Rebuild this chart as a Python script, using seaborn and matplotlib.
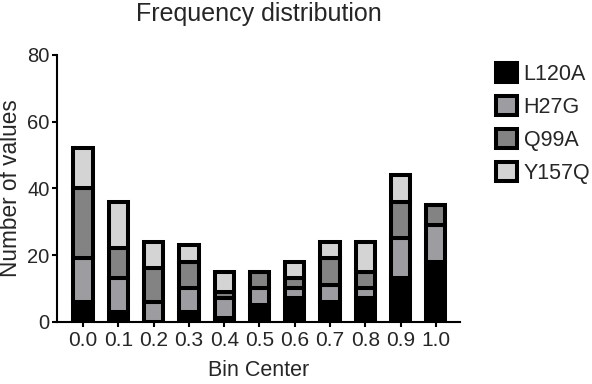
import numpy as np
import pandas as pd
import seaborn as sns
import matplotlib.pyplot as plt
from matplotlib.patches import Patch

# frequency counts per bin
bins = ["0.0", "0.1", "0.2", "0.3", "0.4", "0.5", "0.6", "0.7", "0.8", "0.9", "1.0"]
L120A = [6, 3, 0, 3, 1, 5, 7, 6, 7, 13, 18]
H27G = [13, 10, 6, 7, 6, 5, 3, 5, 3, 12, 11]
Q99A = [21, 9, 10, 8, 2, 5, 3, 8, 5, 11, 6]
Y157Q = [12, 14, 8, 5, 6, 0, 5, 5, 9, 8, 0]

series = ["L120A", "H27G", "Q99A", "Y157Q"]
colors = {"L120A": "#000000", "H27G": "#9d9da1", "Q99A": "#838383", "Y157Q": "#d4d4d4"}

df = pd.DataFrame({"bin": bins, "L120A": L120A, "H27G": H27G, "Q99A": Q99A, "Y157Q": Y157Q})

sns.set_theme(style="ticks")
plt.rcParams['font.family'] = ['Liberation Sans', 'DejaVu Sans']

fig = plt.figure(figsize=(5.92, 3.84), dpi=100)
ax = fig.add_axes([0.0958, 0.162, 0.682, 0.695])

bottom = np.zeros(len(bins))
for s in series:
    sns.barplot(data=df, x="bin", y=s, color=colors[s], saturation=1, width=0.55,
                bottom=bottom, edgecolor="black", linewidth=2.9, ax=ax)
    bottom = bottom + df[s].values

ax.set_xlim(-0.75, 10.7)
ax.set_ylim(0, 80)
ax.set_yticks([0, 20, 40, 60, 80])

ax.set_title("Frequency distribution", fontsize=18, pad=24.5)
ax.set_xlabel("Bin Center", fontsize=15.5, labelpad=7)
ax.set_ylabel("Number of values", fontsize=16.3, labelpad=4)
ax.tick_params(axis="both", width=1.5, length=3.6, color="black")
ax.tick_params(axis="y", pad=1.5, labelsize=14.5)
ax.tick_params(axis="x", pad=3, labelsize=15)

sns.despine(ax=ax)
for sp in ["left", "bottom"]:
    ax.spines[sp].set_linewidth(1.5)
    ax.spines[sp].set_color("black")

handles = [Patch(facecolor=colors[s], edgecolor="black", linewidth=2.9, label=s) for s in series]
fig.legend(handles=handles, loc="upper left", bbox_to_anchor=(0.838, 0.835),
           frameon=False, fontsize=15.5, handlelength=0.95, handleheight=0.95,
           handletextpad=0.33, labelspacing=0.52, borderpad=0, borderaxespad=0)

fig.savefig("out.png", dpi=100)
